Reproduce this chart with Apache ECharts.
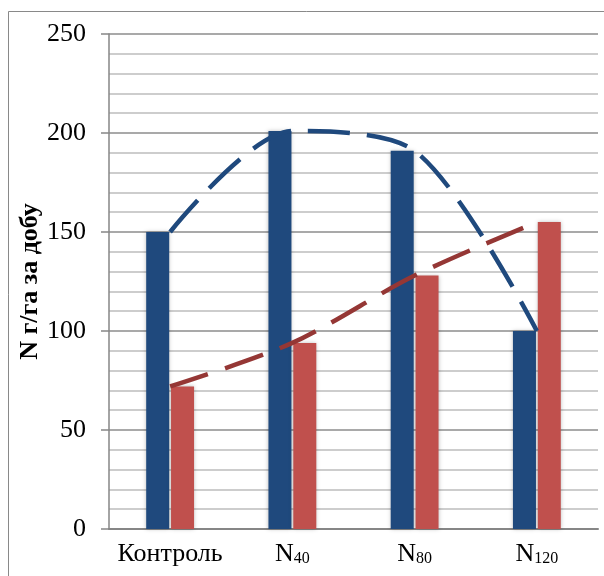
<!DOCTYPE html>
<html>
<head>
<meta charset="utf-8">
<script src="https://cdn.jsdelivr.net/npm/echarts@6/dist/echarts.min.js"></script>
<style>
  html, body { margin: 0; padding: 0; background: #fff; }
  #chart { width: 604px; height: 576px; }
</style>
</head>
<body>
<div id="chart"></div>
<script>
// Nitrogen uptake per day, two series per treatment
const categories = ['Контроль', 'N40', 'N80', 'N120'];
const seriesBlue = [150, 201, 191, 100];
const seriesRed = [72, 94, 128, 155];
const yTicks = [0, 50, 100, 150, 200, 250];

const blue = '#1F497D';
const red = '#C0504D';
const blueTrend = '#1F497D';
const redTrend = '#953735';
const serif = '"Liberation Serif", "Times New Roman", serif';

// "N40" -> N with a subscript dose
function catLabel(v) {
  if (v.charAt(0) === 'N' && v.length > 1) {
    return '{a|N}{b|' + v.slice(1) + '}';
  }
  return '{a|' + v + '}';
}

const chart = echarts.init(document.getElementById('chart'));
chart.setOption({
  animation: false,
  backgroundColor: '#fff',
  graphic: [{
    type: 'rect',
    shape: { x: 8.5, y: 11.5, width: 800, height: 800 },
    style: { fill: 'none', stroke: '#898989', lineWidth: 1 },
    silent: true,
    z: -10
  }],
  grid: { left: 109, right: 6, top: 34, bottom: 47 },
  xAxis: {
    type: 'category',
    data: categories,
    axisLine: { lineStyle: { color: '#868686', width: 2 } },
    axisTick: { show: false },
    axisLabel: {
      margin: 12,
      formatter: catLabel,
      rich: {
        a: { fontFamily: serif, fontSize: 26, color: '#000', verticalAlign: 'bottom', lineHeight: 26 },
        b: { fontFamily: serif, fontSize: 16, color: '#000', verticalAlign: 'bottom', lineHeight: 16 }
      }
    }
  },
  yAxis: {
    type: 'value',
    min: yTicks[0],
    max: yTicks[yTicks.length - 1],
    interval: 50,
    name: 'N г/га за добу',
    nameLocation: 'middle',
    nameGap: 66,
    nameMoveOverlap: false,
    nameTextStyle: { fontFamily: serif, fontSize: 26, fontWeight: 'bold', color: '#000' },
    axisLine: { show: true, lineStyle: { color: '#868686', width: 1.5 } },
    axisTick: { show: true, length: 8, lineStyle: { color: '#868686', width: 1.5 } },
    axisLabel: { margin: 23, fontFamily: serif, fontSize: 26, color: '#000' },
    splitLine: { show: true, lineStyle: { color: '#8C8C8C', width: 1.5 } },
    minorTick: { show: false, splitNumber: 5 },
    minorSplitLine: { show: true, lineStyle: { color: '#BDBDBD', width: 1.5 } }
  },
  series: [
    {
      type: 'bar',
      data: seriesBlue,
      barWidth: 23,
      barGap: '8%',
      itemStyle: { color: blue, shadowBlur: 4, shadowColor: 'rgba(0,0,0,0.25)' },
      z: 2
    },
    {
      type: 'bar',
      data: seriesRed,
      barWidth: 23,
      itemStyle: { color: red, shadowBlur: 4, shadowColor: 'rgba(0,0,0,0.25)' },
      z: 2
    },
    {
      type: 'line',
      data: seriesBlue,
      smooth: 0.3,
      symbol: 'none',
      lineStyle: { color: blueTrend, width: 4.5, type: [42, 17] },
      z: 5
    },
    {
      type: 'line',
      data: seriesRed,
      smooth: 0.3,
      symbol: 'none',
      lineStyle: { color: redTrend, width: 4.5, type: [40, 18] },
      z: 5
    }
  ]
});
</script>
</body>
</html>
